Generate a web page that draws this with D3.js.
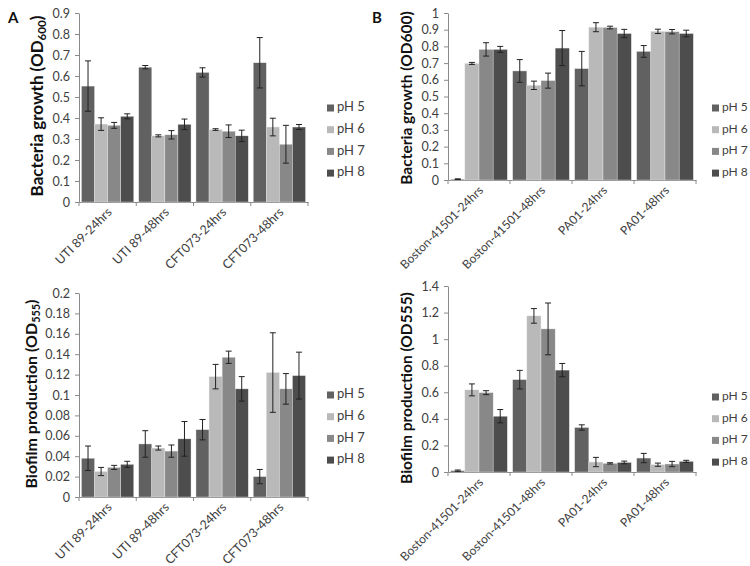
<!DOCTYPE html>
<html><head><meta charset="utf-8">
<script src="https://cdn.jsdelivr.net/npm/d3@7"></script>
<style>
body{margin:0;background:#fff;}
svg{display:block;}
text{font-family:Lato,sans-serif;}
</style></head>
<body>
<svg id="chart" width="750" height="566"></svg>
<script>
// ---------- data ----------
const seriesNames = ["pH 5", "pH 6", "pH 7", "pH 8"];
const seriesColors = ["#616161", "#b9b9b9", "#888888", "#4d4d4d"];

const categoriesA = ["UTI 89-24hrs", "UTI 89-48hrs", "CFT073-24hrs", "CFT073-48hrs"];
const categoriesB = ["Boston-41501-24hrs", "Boston-41501-48hrs", "PA01-24hrs", "PA01-48hrs"];

// values[series][category]
const growthAValues = [
  [0.552, 0.642, 0.617, 0.663],
  [0.371, 0.315, 0.345, 0.357],
  [0.365, 0.320, 0.337, 0.275],
  [0.408, 0.370, 0.315, 0.357]
];
const growthAErrors = [
  [0.120, 0.008, 0.022, 0.120],
  [0.030, 0.005, 0.004, 0.042],
  [0.014, 0.020, 0.030, 0.090],
  [0.012, 0.025, 0.027, 0.012]
];
const biofilmAValues = [
  [0.038, 0.052, 0.066, 0.020],
  [0.025, 0.048, 0.118, 0.122],
  [0.029, 0.045, 0.137, 0.106],
  [0.032, 0.057, 0.106, 0.119]
];
const biofilmAErrors = [
  [0.012, 0.013, 0.010, 0.007],
  [0.004, 0.002, 0.012, 0.039],
  [0.002, 0.006, 0.006, 0.015],
  [0.003, 0.017, 0.012, 0.023]
];
const growthBValues = [
  [0.005, 0.653, 0.667, 0.770],
  [0.698, 0.567, 0.915, 0.890],
  [0.782, 0.595, 0.913, 0.888],
  [0.782, 0.790, 0.877, 0.877]
];
const growthBErrors = [
  [0.002, 0.068, 0.103, 0.035],
  [0.006, 0.025, 0.027, 0.013],
  [0.040, 0.045, 0.008, 0.013],
  [0.018, 0.105, 0.025, 0.020]
];
const biofilmBValues = [
  [0.010, 0.695, 0.335, 0.105],
  [0.618, 1.175, 0.075, 0.055],
  [0.597, 1.077, 0.065, 0.060],
  [0.420, 0.767, 0.072, 0.080]
];
const biofilmBErrors = [
  [0.005, 0.070, 0.020, 0.035],
  [0.045, 0.055, 0.035, 0.012],
  [0.015, 0.195, 0.005, 0.020],
  [0.050, 0.050, 0.010, 0.008]
];

const ticksGrowthA = [0, 0.1, 0.2, 0.3, 0.4, 0.5, 0.6, 0.7, 0.8, 0.9];
const ticksBiofilmA = [0, 0.02, 0.04, 0.06, 0.08, 0.1, 0.12, 0.14, 0.16, 0.18, 0.2];
const ticksGrowthB = [0, 0.1, 0.2, 0.3, 0.4, 0.5, 0.6, 0.7, 0.8, 0.9, 1];
const ticksBiofilmB = [0, 0.2, 0.4, 0.6, 0.8, 1, 1.2, 1.4];

// ---------- layout ----------
const panels = [
  {cats: categoriesA, vals: growthAValues, errs: growthAErrors, ticks: ticksGrowthA, max: 0.9,
   x0: 79, x1: 308, yTop: 13, yBot: 202, title: ["Bacteria growth (OD", "600", ")"], tx: 39, ty: 106, tfs: 17,
   legX: 327, legY: 108, panelLabel: "A", plx: 8, ply: 23, cfs: 12.5, lfs: 13},
  {cats: categoriesA, vals: biofilmAValues, errs: biofilmAErrors, ticks: ticksBiofilmA, max: 0.2,
   x0: 79, x1: 308, yTop: 293, yBot: 497, title: ["Biofilm production (OD", "555", ")"], tx: 33, ty: 394, tfs: 16,
   legX: 327, legY: 395, cfs: 12.5, lfs: 13},
  {cats: categoriesB, vals: growthBValues, errs: growthBErrors, ticks: ticksGrowthB, max: 1,
   x0: 448, x1: 696, yTop: 13, yBot: 180, title: ["Bacteria growth (OD600)"], tx: 408, ty: 98, tfs: 15.5,
   legX: 712, legY: 108, panelLabel: "B", plx: 372, ply: 23, cfs: 12, lfs: 12},
  {cats: categoriesB, vals: biofilmBValues, errs: biofilmBErrors, ticks: ticksBiofilmB, max: 1.4,
   x0: 448, x1: 696, yTop: 286, yBot: 472, title: ["Biofilm production (OD555)"], tx: 408, ty: 388, tfs: 15.5,
   legX: 712, legY: 397, cfs: 12, lfs: 12}
];

const svg = d3.select("#chart");
const axisColor = "#8a8a8a";
const textColor = "#404040";

panels.forEach(p => {
  const g = svg.append("g");
  const x = d3.scaleBand().domain(p.cats).range([p.x0, p.x1]).paddingInner(0).paddingOuter(0);
  const xs = d3.scaleBand().domain(d3.range(seriesNames.length)).range([0, x.bandwidth()])
    .paddingInner(0).paddingOuter(0.19);
  const y = d3.scaleLinear().domain([0, p.max]).range([p.yBot, p.yTop]);

  // y axis
  const ya = g.append("g").attr("transform", `translate(${p.x0},0)`)
    .call(d3.axisLeft(y).tickValues(p.ticks).tickSize(4).tickSizeOuter(0).tickFormat(d3.format("~g")));
  ya.select(".domain").attr("stroke", axisColor);
  ya.selectAll(".tick line").attr("stroke", axisColor);
  ya.selectAll(".tick text").attr("fill", textColor).attr("font-size", 12.5).attr("x", -9)
    .style("font-family", "Lato, sans-serif");

  // x axis
  const xa = g.append("g").attr("transform", `translate(0,${p.yBot})`)
    .call(d3.axisBottom(x).tickSize(0).tickSizeOuter(0));
  xa.select(".domain").attr("stroke", axisColor);
  xa.selectAll(".tick text").remove();
  // category tick marks at boundaries
  const bounds = p.cats.map(c => x(c)).concat([p.x1]);
  g.selectAll(".bt").data(bounds).enter().append("line")
    .attr("x1", d => d).attr("x2", d => d).attr("y1", p.yBot).attr("y2", p.yBot + 4)
    .attr("stroke", axisColor);
  // rotated category labels
  g.selectAll(".cl").data(p.cats).enter().append("text")
    .attr("transform", d => `translate(${x(d) + x.bandwidth() / 2 + 5},${p.yBot + 11}) rotate(-45)`)
    .attr("text-anchor", "end").attr("font-size", p.cfs).attr("fill", textColor)
    .style("font-family", "Lato, sans-serif")
    .text(d => d);

  // bars
  seriesNames.forEach((s, si) => {
    const sg = g.append("g");
    sg.selectAll("rect").data(p.cats).enter().append("rect")
      .attr("x", d => x(d) + xs(si))
      .attr("width", xs.bandwidth())
      .attr("y", (d, ci) => y(p.vals[si][ci]))
      .attr("height", (d, ci) => p.yBot - y(p.vals[si][ci]))
      .attr("fill", seriesColors[si])
      .attr("stroke", "#e8e8e8").attr("stroke-width", 0.4);
  });
  // error bars
  seriesNames.forEach((s, si) => {
    p.cats.forEach((c, ci) => {
      const cx = x(c) + xs(si) + xs.bandwidth() / 2;
      const v = p.vals[si][ci], e = p.errs[si][ci];
      const y1 = y(v + e), y2 = y(Math.max(0, v - e));
      g.append("line").attr("x1", cx).attr("x2", cx).attr("y1", y1).attr("y2", y2)
        .attr("stroke", "#222").attr("stroke-width", 1);
      [y1, y2].forEach(yy => g.append("line").attr("x1", cx - 3).attr("x2", cx + 3)
        .attr("y1", yy).attr("y2", yy).attr("stroke", "#222").attr("stroke-width", 1));
    });
  });

  // y title
  const t = g.append("text")
    .attr("transform", `translate(${p.tx},${p.ty}) rotate(-90)`)
    .attr("text-anchor", "middle").attr("dominant-baseline", "middle")
    .attr("font-size", p.tfs).attr("font-weight", "bold").attr("fill", "#111")
    .style("font-family", "Lato, sans-serif");
  t.append("tspan").text(p.title[0]);
  if (p.title.length > 1) {
    t.append("tspan").attr("font-size", p.tfs * 0.68).attr("dy", 4).text(p.title[1]);
    t.append("tspan").attr("dy", -4).text(p.title[2]);
  }

  // legend
  const lg = g.append("g");
  seriesNames.forEach((s, si) => {
    const ly = p.legY + si * 21.7;
    lg.append("rect").attr("x", p.legX).attr("y", ly - 3.5).attr("width", 7).attr("height", 7)
      .attr("fill", seriesColors[si]);
    lg.append("text").attr("x", p.legX + 10).attr("y", ly).attr("dominant-baseline", "middle")
      .attr("font-size", p.lfs).attr("fill", textColor).style("font-family", "Lato, sans-serif").text(s);
  });

  if (p.panelLabel) {
    svg.append("text").attr("x", p.plx).attr("y", p.ply).attr("font-size", 15)
      .attr("font-weight", "bold").attr("fill", "#111").text(p.panelLabel);
  }
});
</script>
</body></html>
